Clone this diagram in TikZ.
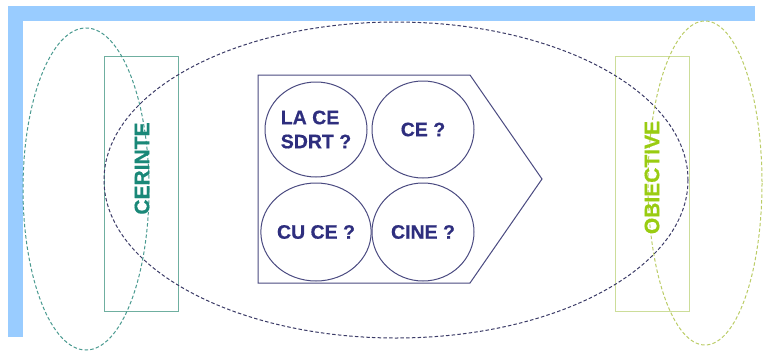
\documentclass[tikz,border=0pt]{standalone}
\usepackage{fontspec}
\setmainfont{Liberation Sans}[BoldFeatures={FakeBold=0.6}]
\usetikzlibrary{shapes.geometric}
\definecolor{barblue}{HTML}{99CCFF}
\definecolor{navy}{HTML}{2E2E7E}
\definecolor{lineblue}{HTML}{4A4A80}
\definecolor{dashnavy}{HTML}{3A3A66}
\definecolor{teal}{HTML}{1A8878}
\definecolor{tealline}{HTML}{6FAFA0}
\definecolor{tealdash}{HTML}{4A9A90}
\definecolor{olive}{HTML}{99CC11}
\definecolor{oliveline}{HTML}{CCDD99}
\definecolor{olivedash}{HTML}{BBCC66}
\tikzset{
  q/.style={ellipse, draw=lineblue, line width=1pt, minimum width=102pt, inner sep=0pt, align=center, font=\bfseries\fontsize{19.5}{24}\selectfont, text=navy},
  dashell/.style={dashed, dash pattern=on 3.5pt off 2.2pt, line width=1pt},
  side/.style={draw, line width=1pt, minimum width=74pt, minimum height=255pt, inner sep=0pt},
  sidetext/.style={rotate=90, font=\bfseries\fontsize{21}{22}\selectfont}
}
\begin{document}
\begin{tikzpicture}[x=1pt,y=-1pt]
\useasboundingbox (0,0) rectangle (763,351);
% blue bars
\fill[barblue] (8,6) rectangle (755,21);
\fill[barblue] (8,6) rectangle (23,337);
% side rectangles
\node[side, draw=tealline] (lrect) at (141,183.5) {};
\node[side, draw=oliveline] (rrect) at (652,183.5) {};
% big ellipse
\draw[dashell, draw=dashnavy] (396,180) ellipse [x radius=292, y radius=158];
% side ellipses
\draw[dashell, draw=tealdash] (86,189) ellipse [x radius=63, y radius=161];
\draw[dashell, draw=olivedash] (705,183) ellipse [x radius=57, y radius=162];
% side texts
\node[sidetext, text=teal] (cer) at (142,168.5) {CERINTE};
\node[sidetext, text=olive] (obi) at (652,177.5) {OBIECTIVE};
% pentagon
\draw[lineblue, line width=1pt] (258,75) -- (470,75) -- (542,179) -- (470,283) -- (258,283) -- cycle;
% circles
\node[q, minimum height=95pt, align=left] (a) at (316,129.5) {LA CE\\SDRT ?};
\node[q, minimum height=97pt] (b) at (423,129.5) {CE ?};
\node[q, minimum height=98pt] (c) at (316,232) {CU CE ?};
\node[q, minimum height=98pt] (d) at (423,232) {CINE ?};
\end{tikzpicture}
\end{document}
